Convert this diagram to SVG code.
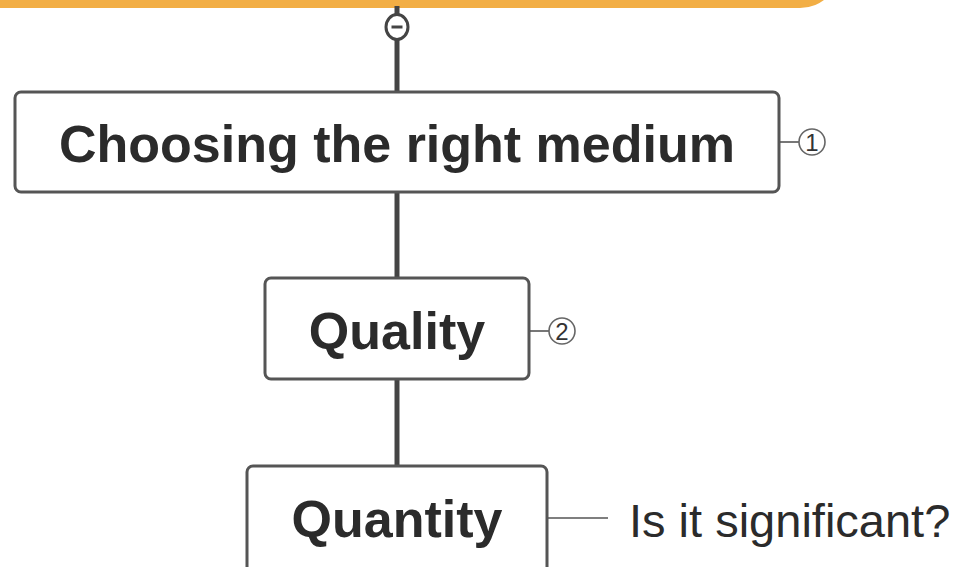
<svg xmlns="http://www.w3.org/2000/svg" width="966" height="567" viewBox="0 0 966 567">
  <style>
    .box { fill: #ffffff; stroke: #555555; stroke-width: 3; }
    .title { font-family: "Liberation Sans", Arial, sans-serif; font-weight: bold; font-size: 52px; fill: #2b2b2b; text-anchor: middle; }
    .plain { font-family: "Liberation Sans", Arial, sans-serif; font-size: 47px; fill: #2b2b2b; }
    .trunk { stroke: #444444; stroke-width: 5; fill: none; }
    .twig { stroke: #555555; stroke-width: 1.6; fill: none; }
    .badge { fill: #ffffff; stroke: #666666; stroke-width: 1.6; }
    .badge-num { font-family: "Liberation Sans", Arial, sans-serif; font-size: 24px; fill: #333333; text-anchor: middle; }
  </style>

  <rect x="0" y="0" width="966" height="567" fill="#ffffff"/>

  <!-- parent topic band along the top edge -->
  <rect id="parent-band" x="-60" y="-72" width="900" height="80" rx="40" ry="40" fill="#F2AE45"/>

  <!-- connectors -->
  <g id="connectors">
    <line class="trunk" x1="397" y1="6" x2="397" y2="16"/>
    <line class="trunk" x1="397" y1="38" x2="397" y2="92"/>
    <line class="trunk" x1="397" y1="192" x2="397" y2="278"/>
    <line class="trunk" x1="397" y1="379" x2="397" y2="466"/>
    <line class="twig" x1="779" y1="142" x2="799" y2="142"/>
    <line class="twig" x1="529" y1="331" x2="549" y2="331"/>
    <line class="twig" x1="547" y1="518" x2="608" y2="518"/>
  </g>

  <!-- collapse toggle -->
  <g id="collapse-toggle">
    <ellipse cx="397" cy="27" rx="11" ry="12.5" fill="#ffffff" stroke="#444444" stroke-width="3"/>
    <line x1="391.5" y1="27" x2="402.5" y2="27" stroke="#444444" stroke-width="3"/>
  </g>

  <g id="node-medium">
    <rect class="box" x="15" y="92" width="764" height="100" rx="6"/>
    <text class="title" x="397" y="162">Choosing the right medium</text>
  </g>
  <g id="badge-1">
    <circle class="badge" cx="812" cy="142" r="13"/>
    <text class="badge-num" x="812" y="150.5">1</text>
  </g>

  <g id="node-quality">
    <rect class="box" x="265" y="278" width="264" height="101" rx="6"/>
    <text class="title" x="397" y="349">Quality</text>
  </g>
  <g id="badge-2">
    <circle class="badge" cx="562" cy="331" r="13"/>
    <text class="badge-num" x="562" y="339.5">2</text>
  </g>

  <g id="node-quantity">
    <rect class="box" x="247" y="466" width="300" height="120" rx="6"/>
    <text class="title" x="397" y="537">Quantity</text>
  </g>

  <g id="node-significant">
    <text class="plain" x="629" y="537">Is it significant?</text>
  </g>
</svg>
